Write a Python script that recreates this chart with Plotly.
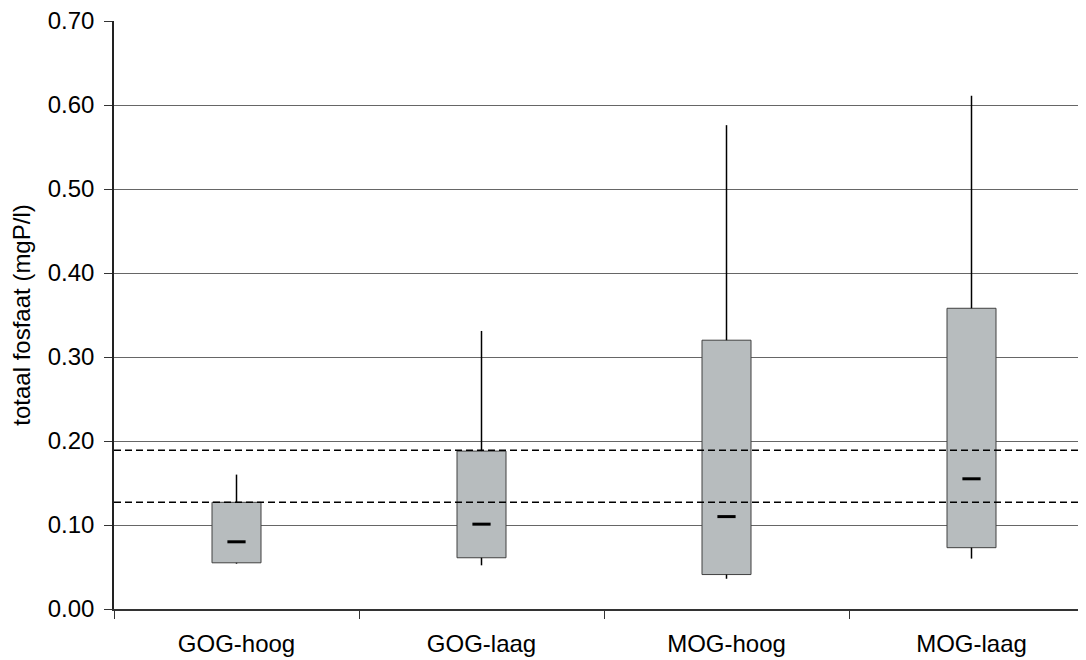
import plotly.graph_objects as go

categories = ["GOG-hoog", "GOG-laag", "MOG-hoog", "MOG-laag"]
minimum = [0.054, 0.052, 0.036, 0.060]
q1 = [0.055, 0.061, 0.041, 0.073]
median = [0.080, 0.101, 0.110, 0.155]
q3 = [0.127, 0.188, 0.320, 0.358]
maximum = [0.160, 0.331, 0.576, 0.611]
ref_lines = [0.189, 0.127]
y_ticks = [0.0, 0.1, 0.2, 0.3, 0.4, 0.5, 0.6, 0.7]

FONT = "Liberation Sans, Arial, sans-serif"

xpos = list(range(len(categories)))
boundaries = [i - 0.5 for i in range(len(categories) + 1)]

fig = go.Figure()

# boxes (q1 to q3)
fig.add_trace(go.Bar(
    x=xpos,
    y=[b - a for a, b in zip(q1, q3)],
    base=q1,
    width=0.2,
    marker=dict(color="#B7BCBE", line=dict(color="#404040", width=1)),
    hoverinfo="skip",
))

# whiskers
wx, wy = [], []
for c, lo, a, b, hi in zip(xpos, minimum, q1, q3, maximum):
    wx += [c, c, None, c, c, None]
    wy += [b, hi, None, lo, a, None]
fig.add_trace(go.Scatter(x=wx, y=wy, mode="lines",
                         line=dict(color="black", width=1.5), hoverinfo="skip"))

# reference lines
for v in ref_lines:
    fig.add_trace(go.Scatter(x=[boundaries[0], boundaries[-1]], y=[v, v], mode="lines",
                             line=dict(color="black", width=1.6, dash="7px,4px"),
                             hoverinfo="skip"))

# medians
fig.add_trace(go.Scatter(
    x=xpos, y=median, mode="markers",
    marker=dict(symbol="line-ew", size=13, line=dict(color="black", width=3)),
    hoverinfo="skip",
))

fig.update_layout(
    width=1086, height=660,
    margin=dict(l=106, r=0, t=13, b=59),
    plot_bgcolor="white", paper_bgcolor="white",
    showlegend=False,
    font=dict(family=FONT, size=24, color="black"),
)
fig.update_xaxes(
    range=[boundaries[0], boundaries[-1]],
    tickmode="array", tickvals=xpos, ticktext=categories,
    ticks="outside", ticklen=8, tickcolor="rgba(0,0,0,0)", tickwidth=1,
    minor=dict(tickmode="array", tickvals=boundaries, ticks="outside",
               ticklen=8, tickcolor="#333333", tickwidth=1, showgrid=False),
    showgrid=False,
    zeroline=False,
    showline=True, linecolor="#333333", linewidth=1.5,
    tickfont=dict(family=FONT, size=24, color="black"),
    ticklabelstandoff=4,
    ticklabeloverflow="allow",
)
fig.update_yaxes(
    range=[0, 0.7],
    tickvals=y_ticks,
    tickformat=".2f",
    ticks="outside", ticklen=8, tickcolor="#333333", tickwidth=1,
    showgrid=True, gridcolor="#666666", gridwidth=1,
    zeroline=False,
    showline=True, linecolor="#222222", linewidth=1.5,
    tickfont=dict(family=FONT, size=24, color="black"),
    ticklabelstandoff=5,
    ticklabeloverflow="allow",
    title=dict(text="totaal fosfaat (mgP/l)", font=dict(family=FONT, size=24, color="black"), standoff=10),
)

fig.write_html("out.html")
